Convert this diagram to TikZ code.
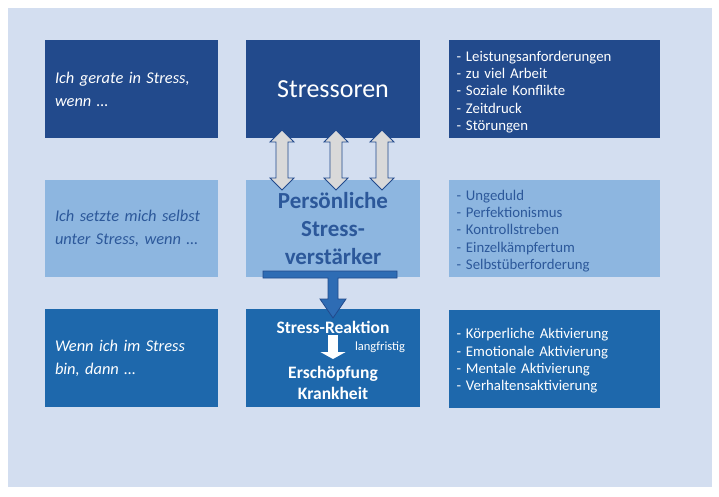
\documentclass[tikz,border=0pt]{standalone}
\usepackage{fontspec}
\setmainfont{Carlito}
\usepackage{xcolor}
\usepackage{tikz}
\usetikzlibrary{positioning,calc,backgrounds,arrows.meta}
\definecolor{sheetblue}{RGB}{211,222,240}
\definecolor{darkblue}{RGB}{34,74,140}
\definecolor{paleblue}{RGB}{141,182,224}
\definecolor{lowblue}{RGB}{30,104,172}
\definecolor{inkblue}{RGB}{44,88,154}
\definecolor{tblue}{RGB}{46,108,180}
\definecolor{arrowgray}{RGB}{217,217,217}
\tikzstyle{sheet}=[
  x=1pt,y=-1pt,>=stealth
]
\tikzstyle{box}=[
  rectangle,inner sep=0pt,minimum height=98pt,minimum width=173pt
]
\tikzstyle{topbox}=[
  box,fill=darkblue,text=white
]
\tikzstyle{midbox}=[
  box,fill=paleblue,text=inkblue
]
\tikzstyle{lowbox}=[
  box,fill=lowblue,text=white
]
\tikzstyle{listbox}=[
  minimum width=211pt
]
\tikzstyle{question}=[
  font=\fontsize{16.4}{23}\selectfont\itshape,align=left,text width=153pt
]
\tikzstyle{items}=[
  font=\fontsize{14.8}{17.4}\selectfont,align=left,text width=196pt,inner sep=0pt
]
\tikzstyle{headline}=[
  font=\fontsize{17.5}{21}\selectfont\bfseries,text=white,align=center
]
\tikzstyle{dblarrow}=[
  draw=darkblue,fill=arrowgray,line width=0.8pt
]
\tikzstyle{tarrow}=[
  draw=darkblue,fill=tblue,line width=0.8pt
]
\newcommand{\updown}[1]{%
  \draw [dblarrow] (#1,130) -- (#1+12,142) -- (#1+6,142) -- (#1+6,178) -- (#1+12,178)
    -- (#1,190) -- (#1-12,178) -- (#1-6,178) -- (#1-6,142) -- (#1-12,142) -- cycle;}

\begin{document}
\begin{tikzpicture}[sheet]
    \useasboundingbox (0,0) rectangle (719,497);
    \fill [white] (0,0) rectangle (719,497);
    \fill [sheetblue] (8,8) rectangle (712,487);
    % top row
    \node (q1) at (131.5,89) [topbox,question] {Ich gerate in Stress,\\wenn \dots};
    \node (stress) at (333,89) [topbox,minimum width=174pt,font=\fontsize{26}{30}\selectfont] {\raisebox{-2pt}{Stressoren}};
    \node (l1) at (554.5,89) [topbox,listbox] {};
    \node (t1) at ($(l1)+(0,3)$) [items,text=white] {- Leistungsanforderungen\\- zu viel Arbeit\\- Soziale Konflikte\\- Zeitdruck\\- Störungen};
    % middle row
    \node (q2) at (131.5,228.5) [midbox,question,minimum height=97pt] {Ich setzte mich selbst\\unter Stress, wenn \dots};
    \node (pers) at (333,228.5) [midbox,minimum width=174pt,minimum height=97pt,align=center,
      font=\fontsize{23}{28}\selectfont\bfseries] {Persönliche\\Stress-\\verstärker};
    \node (l2) at (554.5,228.5) [midbox,listbox,minimum height=97pt] {};
    \node (t2) at ($(l2)+(0,2.5)$) [items,text=inkblue] {- Ungeduld\\- Perfektionismus\\- Kontrollstreben\\- Einzelkämpfertum\\- Selbstüberforderung};
    % bottom row
    \node (q3) at (131.5,358) [lowbox,question] {Wenn ich im Stress\\bin, dann \dots};
    \node (react) at (333,358) [lowbox,minimum width=174pt] {};
    \node (l3) at (554.5,359) [lowbox,listbox] {};
    \node (t3) at ($(l3)+(0,2)$) [items,text=white] {- Körperliche Aktivierung\\- Emotionale Aktivierung\\- Mentale Aktivierung\\- Verhaltensaktivierung};
    \node (sr) at (333,327) [headline] {Stress-Reaktion};
    \node (lf) at (380,347) [text=white,font=\fontsize{12.5}{14}\selectfont] {langfristig};
    \node (ek) at (333,383) [headline] {Erschöpfung\\Krankheit};
    % arrows
    \updown{282}
    \updown{336}
    \updown{382}
    \draw [tarrow] (263,271) -- (397,271) -- (397,278) -- (338,278) -- (338,299) -- (346,299)
      -- (333,318) -- (320,299) -- (328,299) -- (328,278) -- (263,278) -- cycle;
    \draw [white,line width=10pt,-{Triangle[width=25pt,length=7pt]}] (333,335) -- (333,359);
  \end{tikzpicture}
\end{document}
